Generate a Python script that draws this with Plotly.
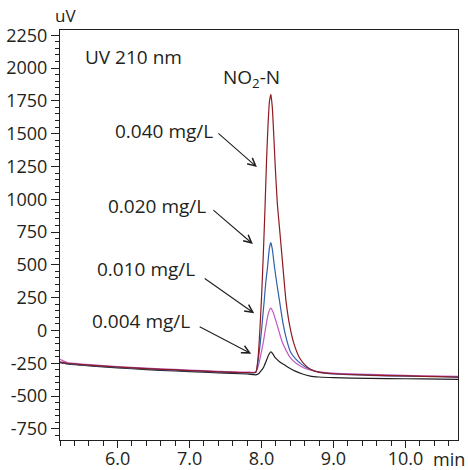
import plotly.graph_objects as go

# ---- data ----
time_040 = [5.20, 5.30, 5.50, 5.80, 6.20, 6.60, 7.00, 7.40, 7.80, 7.92, 7.95, 7.975, 8.00, 8.025, 8.05, 8.07, 8.09, 8.11,
            8.13, 8.15, 8.17, 8.19, 8.22, 8.25, 8.29, 8.34, 8.39, 8.45, 8.53, 8.60, 8.68, 8.80, 9.00, 9.50, 10.00, 10.50, 10.73]
uv_040 = [-240, -250, -260, -272, -285, -296, -306, -315, -322, -318, -220, -20, 250, 580, 960, 1300, 1563, 1745,
          1800, 1700, 1490, 1258, 965, 780, 530, 225, 40, -100, -210, -260, -295, -320, -330, -340, -347, -352, -355]

time_020 = [5.20, 5.30, 5.50, 5.80, 6.20, 6.60, 7.00, 7.40, 7.80, 7.92, 7.95, 7.98, 8.01, 8.037, 8.06, 8.083, 8.11, 8.13,
            8.15, 8.181, 8.215, 8.25, 8.30, 8.353, 8.40, 8.47, 8.55, 8.63, 8.72, 8.80, 9.00, 9.50, 10.00, 10.50, 10.73]
uv_020 = [-243, -252, -262, -274, -287, -298, -308, -317, -324, -320, -240, -110, 60, 225, 370, 480, 630, 670,
          620, 480, 350, 225, 50, -80, -160, -215, -255, -285, -305, -318, -332, -342, -349, -353, -357]

time_010 = [5.20, 5.23, 5.30, 5.50, 5.80, 6.20, 6.60, 7.00, 7.40, 7.80, 7.92, 7.95, 7.982, 8.028, 8.065, 8.10, 8.13,
            8.16, 8.214, 8.283, 8.34, 8.399, 8.48, 8.584, 8.70, 8.80, 9.00, 9.50, 10.00, 10.50, 10.73]
uv_010 = [-220, -228, -245, -256, -268, -281, -292, -302, -311, -318, -316, -280, -208, -80, 47, 140, 170,
          140, 47, -80, -150, -208, -250, -284, -305, -315, -325, -335, -343, -348, -350]

time_004 = [5.20, 5.30, 5.50, 5.80, 6.20, 6.60, 7.00, 7.40, 7.80, 7.92, 7.96, 7.99, 8.03, 8.065, 8.10, 8.13, 8.16,
            8.19, 8.25, 8.306, 8.38, 8.468, 8.57, 8.677, 8.80, 9.00, 9.50, 10.00, 10.50, 10.73]
uv_004 = [-245, -255, -265, -278, -292, -304, -314, -323, -332, -338, -330, -310, -280, -233, -185, -164, -180,
          -208, -238, -258, -285, -310, -332, -348, -355, -360, -365, -368, -371, -373]

series_names = ["0.004 mg/L", "0.010 mg/L", "0.020 mg/L", "0.040 mg/L"]
series_colors = ["#231f20", "#c25bbf", "#2f5fae", "#8e1b1f"]
series_x = [time_004, time_010, time_020, time_040]
series_y = [uv_004, uv_010, uv_020, uv_040]

y_ticks = [-750, -500, -250, 0, 250, 500, 750, 1000, 1250, 1500, 1750, 2000, 2250]
x_ticks = [6.0, 7.0, 8.0, 9.0, 10.0]

# label positions (text right edge) and arrow start/end, in data units
label_text = ["0.040 mg/L", "0.020 mg/L", "0.010 mg/L", "0.004 mg/L"]
label_x = [7.35, 7.26, 7.10, 7.03]
label_y = [1520, 950, 468, 72]
arrow_from_x = [7.38, 7.31, 7.19, 7.12]
arrow_from_y = [1512, 927, 404, 34]
arrow_to_x = [7.936, 7.880, 7.898, 7.856]
arrow_to_y = [1245, 659, 131, -177]

FONT = "Open Sans"
INK = "#231f20"

fig = go.Figure()
for xs, ys, c, n in zip(series_x, series_y, series_colors, series_names):
    fig.add_trace(go.Scatter(x=xs, y=ys, mode="lines", name=n, hoverinfo="skip",
                             line=dict(color=c, width=1.2, shape="spline", smoothing=0.5)))

annotations = []
for t, lx, ly in zip(label_text, label_x, label_y):
    annotations.append(dict(x=lx, y=ly, xref="x", yref="y", text=t, showarrow=False,
                            xanchor="right", yanchor="middle", font=dict(size=19, color=INK, family=FONT)))
for fx, fy, tx, ty in zip(arrow_from_x, arrow_from_y, arrow_to_x, arrow_to_y):
    annotations.append(dict(x=tx, y=ty, ax=fx, ay=fy, xref="x", yref="y", axref="x", ayref="y",
                            text="", showarrow=True, arrowhead=5, arrowsize=1.4, arrowwidth=1.1,
                            arrowcolor=INK, standoff=0, startstandoff=0))

annotations += [
    dict(x=0.058, y=0.934, xref="paper", yref="paper", text="UV 210 nm", showarrow=False,
         xanchor="left", yanchor="middle", font=dict(size=19, color=INK, family=FONT)),
    dict(x=0.480, y=0.883, xref="paper", yref="paper", text="NO<sub>2</sub>-N", showarrow=False,
         xanchor="center", yanchor="middle", font=dict(size=19, color=INK, family=FONT)),
    dict(x=-0.017, y=1.0, xref="paper", yref="paper", text="uV", showarrow=False,
         xanchor="left", yanchor="bottom", yshift=1, font=dict(size=17, color=INK, family=FONT)),
    dict(x=1.0, y=0.0, xref="paper", yref="paper", text="min", showarrow=False,
         xanchor="right", yanchor="top", xshift=9, yshift=-5, font=dict(size=18, color=INK, family=FONT)),
]

fig.update_layout(
    width=468, height=470,
    margin=dict(l=60, r=10, t=30, b=30),
    paper_bgcolor="white", plot_bgcolor="white",
    showlegend=False,
    font=dict(family=FONT, color=INK, size=18),
    annotations=annotations,
)
fig.update_xaxes(range=[5.2, 10.73], tickvals=x_ticks, ticktext=[f"{v:.1f}" for v in x_ticks],
                 ticks="outside", ticklen=7, tickwidth=1, tickcolor=INK, automargin=False,
                 ticklabelstandoff=-5,
                 minor=dict(dtick=0.2, tick0=0, ticks="outside", ticklen=5, tickcolor=INK, tickwidth=1),
                 showline=True, linecolor=INK, linewidth=1.2, mirror=True, showgrid=False, zeroline=False,
                 tickfont=dict(size=18, family=FONT, color=INK))
fig.update_yaxes(range=[-835, 2290], tickvals=y_ticks, ticktext=[str(v) for v in y_ticks],
                 ticks="outside", ticklen=8, tickwidth=1, tickcolor=INK, automargin=False,
                 minor=dict(dtick=50, tick0=0, ticks="outside", ticklen=4, tickcolor=INK, tickwidth=1),
                 showline=True, linecolor=INK, linewidth=1.2, mirror=True, showgrid=False, zeroline=False,
                 tickfont=dict(size=18, family=FONT, color=INK))

fig.write_html("out.html", config={"displayModeBar": False},
               post_script="document.body.style.margin='0';document.body.style.padding='0';")
